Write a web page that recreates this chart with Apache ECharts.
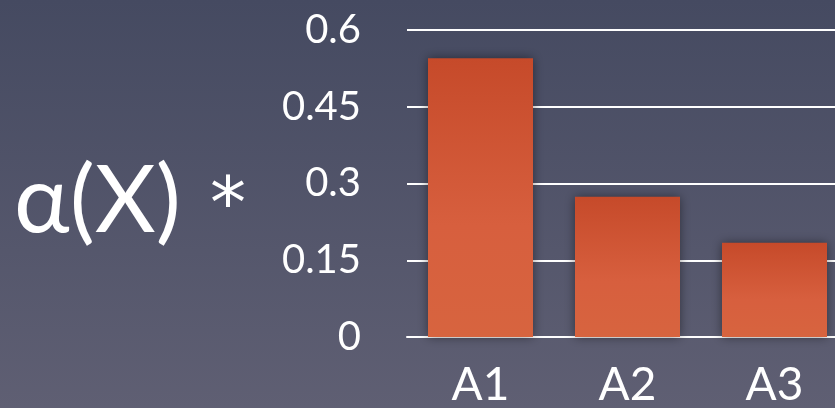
<!DOCTYPE html>
<html><head><meta charset="utf-8">
<script src="https://cdn.jsdelivr.net/npm/echarts@6/dist/echarts.min.js"></script>
<style>html,body{margin:0;padding:0;}#c{width:835px;height:408px;}</style>
</head><body><div id="c"></div>
<script>
const categories = ['A1', 'A2', 'A3'];
const values = [0.545, 0.274, 0.184];
const yTicks = [0, 0.15, 0.3, 0.45, 0.6];
const titleText = 'α(X)';
const starText = '*';

const chart = echarts.init(document.getElementById('c'));
const FONT = 'Lato';
const gridLeft = 407, band = 147, plotW = 835 - gridLeft;
chart.setOption({
  backgroundColor: new echarts.graphic.LinearGradient(0, 0, 0, 1, [
    {offset: 0, color: '#454a61'}, {offset: 1, color: '#5f5f73'}
  ]),
  animation: false,
  graphic: [
    {type: 'text', left: 14, top: 155, style: {text: titleText, fill: '#fff', font: '94px ' + FONT}},
    {type: 'text', left: 210, top: 172, style: {text: starText, fill: '#fff', font: '72px "DejaVu Sans"'}}
  ],
  grid: {left: gridLeft, top: 30, bottom: 71, right: 0, containLabel: false},
  xAxis: {
    type: 'value', min: -0.5, max: plotW / band - 0.5,
    splitLine: {show: false},
    axisLine: {show: true, onZero: false, lineStyle: {color: '#ffffff', width: 2}},
    axisTick: {show: false},
    axisLabel: {color: '#fff', fontSize: 46, fontFamily: FONT, margin: 25,
      customValues: categories.map((c, i) => i),
      formatter: v => categories[Math.round(v)] || ''}
  },
  yAxis: {
    type: 'value', min: 0, max: 0.6, interval: 0.15,
    axisLine: {show: false}, axisTick: {show: false},
    splitLine: {lineStyle: {color: '#ffffff', width: 2}},
    axisLabel: {color: '#fff', fontSize: 40, fontFamily: FONT, margin: 46,
      formatter: v => String(yTicks.find(t => Math.abs(t - v) < 1e-9) ?? v)}
  },
  series: [{
    type: 'bar', data: values.map((v, i) => [i, v]), barWidth: 105,
    itemStyle: {
      color: new echarts.graphic.LinearGradient(0, 0, 0, 1, [
        {offset: 0, color: '#c64a2a'}, {offset: 0.6, color: '#d75f3e'}, {offset: 1, color: '#d7643f'}
      ]),
      shadowBlur: 10, shadowColor: 'rgba(0,0,0,0.45)', shadowOffsetX: 0, shadowOffsetY: 0
    }
  }]
});
</script></body></html>
